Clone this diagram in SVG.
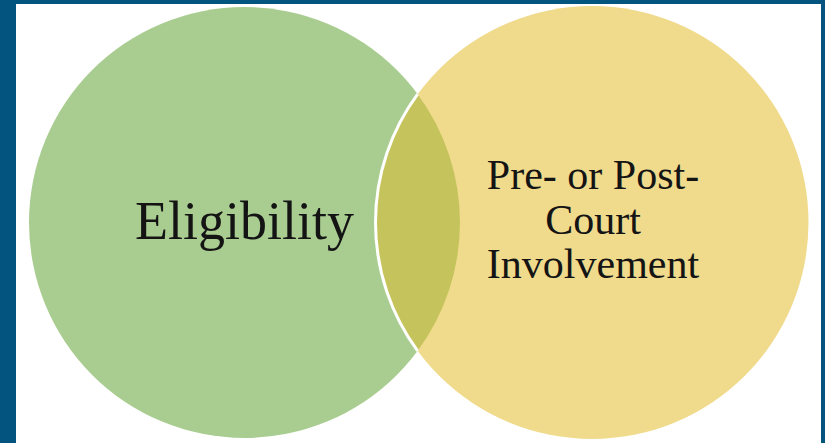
<svg xmlns="http://www.w3.org/2000/svg" width="825" height="443" viewBox="0 0 825 443">
  <style>
    .lbl { font-family: "Liberation Serif", "DejaVu Serif", serif; fill: #141414; text-anchor: middle; }
  </style>
  <rect x="0" y="0" width="825" height="443" fill="#ffffff"/>
  <g id="frame" fill="#03547f">
    <rect x="0" y="0" width="825" height="4"/>
    <rect x="0" y="0" width="16" height="443"/>
    <rect x="821" y="0" width="4" height="443"/>
  </g>
  <g id="eligibility">
    <circle cx="244.5" cy="222.5" r="215.5" fill="#a9cd90"/>
    <text class="lbl" x="244.5" y="239" font-size="54">Eligibility</text>
  </g>
  <g id="court">
    <circle cx="592" cy="222.5" r="216.5" fill="#f0da8c"/>
    <text class="lbl" x="593" y="189" font-size="42">Pre- or Post-</text>
    <text class="lbl" x="593" y="233.5" font-size="42">Court</text>
    <text class="lbl" x="593" y="278" font-size="42">Involvement</text>
  </g>
  <g id="overlap">
    <path d="M417.6 94.2 A215.5 215.5 0 0 1 417.6 350.8 A216.5 216.5 0 0 1 417.6 94.2 Z" fill="#c5c35b"/>
    <path d="M417.6 350.8 A216.5 216.5 0 0 1 417.6 94.2" fill="none" stroke="#ffffff" stroke-width="3"/>
  </g>
</svg>
